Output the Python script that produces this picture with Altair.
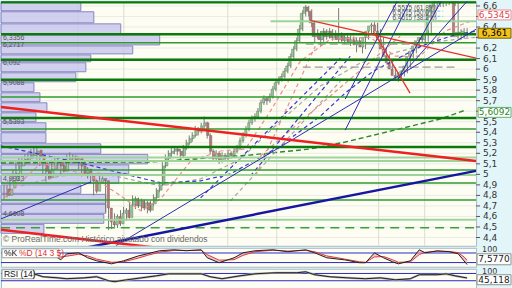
import altair as alt
import pandas as pd

# ---------------- daily candles (bar index 0..155) ----------------
opens = [4.86,4.80,4.87,4.94,5.00,5.08,5.14,5.11,5.15,5.18,
         5.20,5.23,5.17,5.11,5.03,4.97,5.05,5.11,5.13,5.08,
         5.03,5.11,5.15,5.17,5.13,5.15,5.08,5.01,5.05,4.99,
         4.94,4.84,4.92,4.96,4.94,4.68,4.55,4.52,4.60,4.53,
         4.63,4.66,4.59,4.71,4.77,4.70,4.75,4.68,4.73,4.66,
         4.72,4.78,4.85,4.90,5.08,5.15,5.20,5.22,5.24,5.22,
         5.18,5.25,5.30,5.34,5.37,5.43,5.41,5.46,5.49,5.37,
         5.22,5.15,5.20,5.13,5.18,5.15,5.20,5.18,5.22,5.25,
         5.32,5.37,5.43,5.49,5.53,5.55,5.60,5.68,5.72,5.70,
         5.74,5.81,5.87,5.90,5.93,5.98,6.03,6.12,6.19,6.27,
         6.38,6.53,6.59,6.55,6.44,6.31,6.34,6.28,6.36,6.31,
         6.36,6.30,6.34,6.28,6.32,6.27,6.30,6.25,6.28,6.23,
         6.27,6.21,6.30,6.36,6.41,6.42,6.36,6.28,6.19,6.12,
         6.06,6.00,5.94,5.92,5.96,5.98,6.03,6.12,6.17,6.22,
         6.27,6.30,6.28,6.34,6.55,6.60,6.64,6.66,6.63,6.68,
         6.65,6.67,6.64,6.31,6.35,6.33]
highs = [4.90,4.90,4.97,5.05,5.12,5.16,5.17,5.19,5.21,5.24,
         5.26,5.25,5.19,5.13,5.06,5.08,5.14,5.17,5.15,5.10,
         5.14,5.19,5.21,5.19,5.18,5.17,5.10,5.08,5.07,5.01,
         4.96,4.95,4.99,4.98,4.95,4.70,4.60,4.63,4.62,4.66,
         4.69,4.68,4.74,4.80,4.79,4.78,4.77,4.76,4.75,4.75,
         4.81,4.87,4.93,5.12,5.19,5.23,5.25,5.27,5.26,5.24,
         5.28,5.33,5.37,5.40,5.46,5.45,5.49,5.55,5.50,5.39,
         5.24,5.23,5.22,5.21,5.20,5.23,5.22,5.25,5.28,5.35,
         5.40,5.46,5.52,5.56,5.58,5.63,5.71,5.75,5.74,5.77,
         5.84,5.90,5.93,5.96,6.01,6.06,6.15,6.22,6.30,6.42,
         6.56,6.61,6.60,6.57,6.46,6.38,6.36,6.39,6.38,6.39,
         6.38,6.37,6.58,6.35,6.34,6.33,6.32,6.31,6.30,6.30,
         6.29,6.33,6.39,6.44,6.46,6.44,6.38,6.30,6.21,6.14,
         6.08,6.02,5.97,5.99,6.01,6.06,6.15,6.20,6.25,6.30,
         6.34,6.33,6.37,6.60,6.66,6.70,6.72,6.71,6.73,6.74,
         6.72,6.70,6.66,6.38,6.39,6.39]
lows = [4.76,4.78,4.85,4.92,4.98,5.05,5.08,5.09,5.13,5.16,
        5.18,5.14,5.08,5.00,4.93,4.95,5.03,5.09,5.05,5.00,
        5.02,5.09,5.13,5.10,5.11,5.05,4.98,4.99,4.96,4.91,
        4.80,4.82,4.90,4.91,4.64,4.47,4.48,4.50,4.49,4.51,
        4.60,4.56,4.58,4.69,4.67,4.68,4.65,4.66,4.63,4.64,
        4.70,4.76,4.83,4.89,5.06,5.13,5.16,5.19,5.18,5.14,
        5.16,5.23,5.28,5.31,5.35,5.37,5.39,5.43,5.34,5.19,
        5.12,5.13,5.10,5.11,5.12,5.13,5.15,5.16,5.20,5.23,
        5.30,5.35,5.41,5.47,5.50,5.53,5.58,5.66,5.66,5.68,
        5.72,5.79,5.85,5.88,5.91,5.96,6.01,6.10,6.17,6.25,
        6.36,6.50,6.50,6.40,6.25,6.29,6.22,6.26,6.28,6.29,
        6.27,6.28,6.25,6.26,6.24,6.25,6.22,6.23,6.16,6.21,
        6.15,6.19,6.28,6.34,6.38,6.33,6.25,6.16,6.09,6.03,
        5.97,5.90,5.88,5.90,5.93,5.96,6.01,6.10,6.15,6.20,
        6.25,6.24,6.26,6.32,6.52,6.57,6.59,6.59,6.60,6.61,
        6.62,6.60,6.29,6.28,6.29,6.30]
closes = [4.80,4.86,4.94,5.01,5.08,5.13,5.11,5.15,5.18,5.20,
          5.22,5.17,5.11,5.03,4.96,5.05,5.11,5.13,5.08,5.03,
          5.11,5.15,5.17,5.13,5.15,5.08,5.01,5.05,4.99,4.94,
          4.84,4.92,4.96,4.94,4.68,4.55,4.52,4.60,4.53,4.63,
          4.66,4.59,4.71,4.77,4.70,4.75,4.68,4.73,4.66,4.72,
          4.78,4.85,4.90,5.08,5.15,5.20,5.22,5.24,5.22,5.18,
          5.25,5.30,5.34,5.37,5.43,5.41,5.46,5.49,5.37,5.22,
          5.15,5.20,5.13,5.18,5.15,5.20,5.18,5.22,5.25,5.32,
          5.37,5.43,5.49,5.53,5.55,5.60,5.68,5.72,5.70,5.74,
          5.81,5.87,5.90,5.93,5.98,6.03,6.12,6.19,6.27,6.38,
          6.53,6.59,6.55,6.44,6.31,6.34,6.28,6.36,6.31,6.36,
          6.30,6.34,6.28,6.32,6.27,6.30,6.25,6.28,6.23,6.27,
          6.21,6.30,6.36,6.41,6.42,6.36,6.28,6.19,6.12,6.06,
          6.00,5.94,5.92,5.96,5.98,6.03,6.12,6.17,6.22,6.27,
          6.30,6.28,6.34,6.56,6.61,6.64,6.66,6.63,6.68,6.65,
          6.67,6.65,6.31,6.35,6.33,6.361]

# ---------------- price axis ----------------
tick_values = [4.4,4.5,4.6,4.7,4.8,4.9,5.0,5.1,5.2,5.3,5.4,5.5,5.6,5.7,5.8,5.9,6.0,6.1,6.2,6.3,6.4,6.5,6.6]
# labels that are not covered by the last-value tags
label_values = [4.4,4.5,4.6,4.7,4.8,4.9,5.0,5.1,5.2,5.3,5.4,5.5,5.7,5.8,5.9,6.0,6.1,6.2,6.4,6.6]
label_texts = ["4,4","4,5","4,6","4,7","4,8","4,9","5","5,1","5,2","5,3","5,4","5,5","5,7",
               "5,8","5,9","6","6,1","6,2","6,4","6,6"]

# ---------------- volume-by-price profile ----------------
profile_hi = [6.64,6.545,6.43,6.325,6.22,6.135,6.06,5.965,5.87,5.775,5.68,5.585,
              5.49,5.395,5.29,5.19,5.09,4.995,4.90,4.81,4.715,4.62,4.525]
profile_lo = [6.555,6.44,6.335,6.23,6.145,6.07,5.975,5.88,5.785,5.69,5.595,5.50,
              5.405,5.30,5.20,5.10,5.005,4.915,4.82,4.725,4.63,4.535,4.44]
profile_vol = [80,93,120,159,132,90,85,75,33,39,46,35,45,45,100,147,128,118,80,105,105,103,43]
profile_tag_price = [6.3356,6.2717,6.092,5.9088,5.5393,4.9933,4.6608]
profile_tag_text = ["6,3356","6,2717","6,092","5,9088","5,5393","4,9933","4,6608"]

# ---------------- horizontal levels ----------------
levels_dark = [6.635,6.332,6.090,5.900,5.535,5.260]
levels_mid = [6.251,5.734,5.431,5.042,4.919,4.757]
levels_light = [5.160,5.127,4.995,4.568]
levels_dashed = [4.492]
level_partial = [6.455]
gray_level_price = [6.237,6.019]
gray_level_from = [101,100]
gray_level_to = [139,151]
fib_price = [6.5515,6.5015,6.4615]
fib_text = ["6,5515 (61,8%)","6,5015 (50,0%)","6,4615 (38,2%)"]
vgrid_bars = [24.7,40.1,74.9,91.3,125.4,140.8]

# ---------------- trend lines (bar0, price0, bar1, price1) ----------------
red_thick = [(-1,5.639,158,5.127),(-1,4.473,52.4,4.299)]
blue_thick = [(25.7,4.294,158,5.033)]
blue_thin = [(-1,4.577,29.1,4.928),(37.4,4.321,158,6.379),(131.9,5.905,146.3,6.645),
             (131.9,5.905,155.0,6.645),(114.2,5.420,135.9,6.645),(114.2,5.715,131.6,6.645)]
red_thin = [(102.5,6.464,158,6.104),(123.6,6.360,135.9,5.772)]
red_dash_seg = [(84.2,4.985,104.2,6.218),(85.8,5.175,132.6,6.313)]
blue_dash_seg = [(65.8,4.776,112.6,6.104),(82.5,4.985,115.9,6.123)]
gray_dash_seg = [(75.8,4.748,112.6,5.886)]

# ---------------- moving averages ----------------
ma_green_bar = [-1,49.1,82.5,102.5,114.2,146.0,154.3]
ma_green = [5.108,5.118,5.184,5.241,5.307,5.526,5.609]
ma_blue_bar = [-1,25.7,52.4,65.8,75.8,92.5,105.9,114.2,123.6,140.3,151.6,158]
ma_blue = [5.270,5.108,4.919,4.938,5.004,5.270,5.554,5.772,5.981,6.227,6.332,6.360]
ma_red_bar = [0,12.4,29.1,39.1,45.8,52.4,62.5,72.5,80.8,89.2,99.2,109.2,122.6,130.9,139.3,147.6,156]
ma_red = [4.776,5.108,4.985,4.795,4.653,4.767,5.127,5.222,5.241,5.602,6.076,6.284,6.303,6.123,6.123,6.360,6.455]
ma_gray_bar = [5.7,19.0,32.4,52.4,65.8,79.2,92.5,105.9,119.2,132.6,146.0,158]
ma_gray = [4.890,4.985,5.013,4.890,4.957,5.146,5.507,5.839,6.057,6.170,6.265,6.303]

# ---------------- last-value tags ----------------
tag_value = [6.5345,6.361,5.6092]
tag_text = ["6,5345","6,361","5,6092"]
tag_fill = ["#ffffff","#f2c21a","#ffffff"]
tag_stroke = ["#e89090","#7a6000","#6aaa6a"]
tag_color = ["#e04848","#000000","#2a8a2a"]

# ---------------- stochastic ----------------
stoch_bar = [13,16,19,21,25,28,31,36,40,45,48,52,57,61,66,68,72,77,80,84,
             90,95,101,104,108,114,119,121,124,127,130,132,136,139,141,145,149,152,154,155]
stoch_k = [50,75,37,75,81,50,31,12,31,62,75,94,100,94,100,50,19,50,81,94,
           100,88,100,81,50,37,19,19,81,50,25,12,31,100,81,94,88,75,30,7.6]
stoch_d = [55,60,55,60,72,62,42,22,25,48,65,85,96,96,97,70,35,38,65,88,
           97,92,96,88,62,42,25,22,55,58,38,22,24,70,85,90,90,82,55,35]
stoch_levels = [20,80]

# ---------------- RSI ----------------
rsi_bar = [10,13,18,21,27,31,35,37,41,46,51,55,61,66,69,73,79,84,91,98,
           101,104,109,115,121,126,131,136,139,145,148,151,155]
rsi_val = [68,52,46,41,46,52,30,25,35,46,57,68,68,68,52,41,57,68,74,74,
           79,63,52,46,41,46,35,41,63,63,68,57,45.1]
rsi_levels = [30,70]

# =====================================================================
W = 476
xs = alt.Scale(domain=[-1, 158], nice=False, zero=False)
ys = alt.Scale(domain=[4.3212, 6.6446], nice=False, zero=False)


def X(f):
    return alt.X(f, type="quantitative", scale=xs, axis=None)


def Y(f):
    return alt.Y(f, type="quantitative", scale=ys, axis=None)


def seg_layer(segs, color, width, dash=None):
    kw = dict(color=color, strokeWidth=width, clip=True)
    if dash:
        kw["strokeDash"] = dash
    df = pd.DataFrame(segs, columns=["b0", "p0", "b1", "p1"])
    return alt.Chart(df).mark_rule(**kw).encode(x=X("b0"), x2="b1", y=Y("p0"), y2="p1")


def hlevels(prices, color, width, dash=None, b0=-1, b1=158):
    kw = dict(color=color, strokeWidth=width, clip=True)
    if dash:
        kw["strokeDash"] = dash
    df = pd.DataFrame({"p": prices, "b0": b0, "b1": b1})
    return alt.Chart(df).mark_rule(**kw).encode(x=X("b0"), x2="b1", y=Y("p"))


def ma_layer(bars, vals, color, width=1.2, dash=(4, 3)):
    df = pd.DataFrame({"b": bars, "p": vals})
    return alt.Chart(df).mark_line(color=color, strokeWidth=width, strokeDash=list(dash),
                                   clip=True).encode(x=X("b"), y=Y("p"))


cdf = pd.DataFrame({"i": list(range(len(closes))), "o": opens, "h": highs, "l": lows, "c": closes})
cdf["dir"] = ["up" if c >= o else "down" for o, c in zip(opens, closes)]

axdf = pd.DataFrame({"p": tick_values, "b0": -1, "b1": 158})
lbdf = pd.DataFrame({"p": label_values, "t": label_texts})
hgrid = alt.Chart(axdf).mark_rule(color="#ecece3", strokeWidth=1).encode(x=X("b0"), x2="b1", y=Y("p"))
ticks = alt.Chart(axdf).mark_rule(color="#555555", strokeWidth=1).encode(
    x=alt.value(476), x2=alt.value(480), y=Y("p"))
tick_txt = alt.Chart(lbdf).mark_text(align="left", baseline="middle", font="DejaVu Sans", fontSize=9,
                                     color="#333333").encode(x=alt.value(483), y=Y("p"), text="t")

vgrid = alt.Chart(pd.DataFrame({"b": vgrid_bars})).mark_rule(color="#dcdcd2", strokeWidth=1).encode(x=X("b"))

pdf = pd.DataFrame({"lo": profile_lo, "hi": profile_hi, "vol": profile_vol})
profile = alt.Chart(pdf).transform_calculate(z="0").mark_rect(
    fill="#c6c6ee", fillOpacity=0.8, stroke="#8686c2", strokeWidth=1
).encode(
    x=alt.X("z:Q", scale=alt.Scale(domain=[0, W], nice=False, zero=False), axis=None),
    x2="vol:Q", y=Y("lo"), y2="hi")

wick = alt.Chart(cdf).mark_rule(color="#7a7a7a", strokeWidth=1, clip=True).encode(
    x=X("i"), y=Y("l"), y2="h")
body = alt.Chart(cdf).mark_bar(size=2.2, clip=True, stroke="#5a5a5a", strokeWidth=0.4).encode(
    x=X("i"), y=Y("o"), y2="c",
    color=alt.Color("dir:N", scale=alt.Scale(domain=["up", "down"], range=["#8fd18f", "#c07676"]), legend=None))

gray_lv = pd.DataFrame({"p": gray_level_price, "b0": gray_level_from, "b1": gray_level_to})
gray_levels = alt.Chart(gray_lv).mark_rule(color="#9a9a9a", strokeWidth=1.2, strokeDash=[8, 4]).encode(
    x=X("b0"), x2="b1", y=Y("p"))

fib_df = pd.DataFrame({"p": fib_price, "t": fib_text, "b0": 130, "b1": 147})
fib_lines = alt.Chart(fib_df).mark_rule(color="#78c8ee", strokeWidth=1, strokeDash=[3, 2], clip=True).encode(
    x=X("b0"), x2="b1", y=Y("p"))
fib_txt = alt.Chart(fib_df).mark_text(align="left", baseline="bottom", font="Liberation Sans", fontSize=6.5,
                                      color="#555555", clip=True).encode(x=X("b0"), y=Y("p"), text="t")

prof_txt = alt.Chart(pd.DataFrame({"p": profile_tag_price, "t": profile_tag_text})).mark_text(
    align="left", baseline="top", font="Liberation Sans", fontSize=7, color="#555555"
).encode(x=alt.value(2), y=Y("p"), text="t")

copyright_txt = alt.Chart(pd.DataFrame({"t": ["© ProRealTime.com  Histórico ajustado con dividendos"]})).mark_text(
    align="left", baseline="middle", font="Liberation Sans", fontSize=8.5, color="#6a6a6a"
).encode(x=alt.value(2), y=alt.value(238), text="t")

tdf = pd.DataFrame({"v": tag_value, "t": tag_text, "fill": tag_fill, "stroke": tag_stroke, "col": tag_color})
tdf["mid"] = tdf["v"] - 0.02
tdf["top"] = tdf["mid"] + 0.047
tdf["bot"] = tdf["mid"] - 0.047
tag_box = alt.Chart(tdf).mark_rect(strokeWidth=1).encode(
    x=alt.value(478), x2=alt.value(511), y=Y("top"), y2="bot",
    fill=alt.Fill("fill:N", scale=None), stroke=alt.Stroke("stroke:N", scale=None))
tag_txt = alt.Chart(tdf).mark_text(align="center", baseline="middle", font="DejaVu Sans", fontSize=9).encode(
    x=alt.value(494.5), y=Y("mid"), text="t", color=alt.Color("col:N", scale=None))

main = alt.layer(
    hgrid, vgrid, profile, wick, body,
    ma_layer(ma_gray_bar, ma_gray, "#a6a6a6"),
    ma_layer(ma_red_bar, ma_red, "#f08c8c"),
    ma_layer(ma_blue_bar, ma_blue, "#3838d0"),
    ma_layer(ma_green_bar, ma_green, "#2a8a2a", 1.4, (5, 3)),
    seg_layer(gray_dash_seg, "#a6a6a6", 1.2, [4, 3]),
    seg_layer(red_dash_seg, "#f08c8c", 1.2, [4, 3]),
    seg_layer(blue_dash_seg, "#3838d0", 1.2, [4, 3]),
    gray_levels, fib_lines, fib_txt,
    hlevels(levels_light, "#9cd49c", 2),
    hlevels(level_partial, "#9cd49c", 2, b0=89.2),
    hlevels(levels_mid, "#2c9c2c", 1.5),
    hlevels(levels_dark, "#0a7a0a", 2.5),
    hlevels(levels_dashed, "#3aa03a", 1.5, dash=[9, 6]),
    seg_layer(blue_thin, "#2b2bb0", 1),
    seg_layer(red_thin, "#e83030", 1.3),
    seg_layer(blue_thick, "#1616a0", 2.5),
    seg_layer(red_thick, "#ee2020", 2.5),
    prof_txt, copyright_txt, ticks, tick_txt, tag_box, tag_txt,
).resolve_scale(x="independent").properties(width=W, height=245)

# ---------------- stochastic panel ----------------
ss = alt.Scale(domain=[-6.25, 112.5], nice=False, zero=False)
sdf = pd.DataFrame({"b": stoch_bar, "k": stoch_k, "d": stoch_d})
s_lv = alt.Chart(pd.DataFrame({"v": stoch_levels, "b0": -1, "b1": 158})).mark_rule(
    color="#2a2ac0", strokeWidth=1).encode(x=X("b0"), x2="b1", y=alt.Y("v:Q", scale=ss, axis=None))
s_area = alt.Chart(sdf).mark_area(color="#eaa2b2", opacity=0.65).encode(
    x=X("b"), y=alt.Y("k:Q", scale=ss, axis=None), y2="d:Q")
s_d = alt.Chart(sdf).mark_line(color="#e03a3a", strokeWidth=1).encode(x=X("b"), y=alt.Y("d:Q", scale=ss, axis=None))
s_k = alt.Chart(sdf).mark_line(color="#202020", strokeWidth=1).encode(x=X("b"), y=alt.Y("k:Q", scale=ss, axis=None))
s_title_box = alt.Chart(pd.DataFrame({"a": [0]})).mark_rect(fill="#ffffff", stroke="#a0a0a0", strokeWidth=1).encode(
    x=alt.value(1), x2=alt.value(58), y=alt.value(1), y2=alt.value(10))
s_title_k = alt.Chart(pd.DataFrame({"t": ["%K"]})).mark_text(
    align="left", baseline="middle", font="Liberation Sans", fontSize=8.5, color="#111111"
).encode(x=alt.value(3), y=alt.value(5.5), text="t")
s_title_d = alt.Chart(pd.DataFrame({"t": ["%D (14 3 5)"]})).mark_text(
    align="left", baseline="middle", font="Liberation Sans", fontSize=8.5, color="#e03030"
).encode(x=alt.value(18), y=alt.value(5.5), text="t")
s_ax = alt.Chart(pd.DataFrame({"v": [100], "t": ["100"]})).mark_text(
    align="left", baseline="middle", font="DejaVu Sans", fontSize=8, color="#333333"
).encode(x=alt.value(482), y=alt.Y("v:Q", scale=ss, axis=None), text="t")
s_box = alt.Chart(pd.DataFrame({"a": [0]})).mark_rect(fill="#ffffff", stroke="#909090", strokeWidth=1).encode(
    x=alt.value(477), x2=alt.value(511), y=alt.value(6), y2=alt.value(17))
s_val = alt.Chart(pd.DataFrame({"t": ["7,5770"]})).mark_text(
    align="center", baseline="middle", font="DejaVu Sans", fontSize=9, color="#222222"
).encode(x=alt.value(494), y=alt.value(11.5), text="t")
stoch = alt.layer(s_lv, s_area, s_d, s_k, s_title_box, s_title_k, s_title_d, s_ax, s_box, s_val).properties(
    width=W, height=19)

# ---------------- RSI panel ----------------
rs = alt.Scale(domain=[-13.8, 95.8], nice=False, zero=False)
rdf = pd.DataFrame({"b": rsi_bar, "r": rsi_val})
r_lv = alt.Chart(pd.DataFrame({"v": rsi_levels, "b0": -1, "b1": 158})).mark_rule(
    color="#2a2ac0", strokeWidth=1).encode(x=X("b0"), x2="b1", y=alt.Y("v:Q", scale=rs, axis=None))
r_shadow = alt.Chart(rdf).mark_line(color="#b0b0b0", strokeWidth=2.2).encode(
    x=X("b"), y=alt.Y("r:Q", scale=rs, axis=None))
r_line = alt.Chart(rdf).mark_line(color="#202020", strokeWidth=1).encode(
    x=X("b"), y=alt.Y("r:Q", scale=rs, axis=None))
r_title_box = alt.Chart(pd.DataFrame({"a": [0]})).mark_rect(fill="#ffffff", stroke="#a0a0a0", strokeWidth=1).encode(
    x=alt.value(1), x2=alt.value(33), y=alt.value(1), y2=alt.value(10))
r_title = alt.Chart(pd.DataFrame({"t": ["RSI (14)"]})).mark_text(
    align="left", baseline="middle", font="Liberation Sans", fontSize=8.5, color="#111111"
).encode(x=alt.value(3), y=alt.value(5.5), text="t")
r_ax = alt.Chart(pd.DataFrame({"v": [100], "t": ["100"]})).mark_text(
    align="left", baseline="top", font="DejaVu Sans", fontSize=8, color="#333333"
).encode(x=alt.value(482), y=alt.Y("v:Q", scale=rs, axis=None), text="t")
r_box = alt.Chart(pd.DataFrame({"a": [0]})).mark_rect(fill="#ffffff", stroke="#909090", strokeWidth=1).encode(
    x=alt.value(477), x2=alt.value(511), y=alt.value(6), y2=alt.value(16))
r_val = alt.Chart(pd.DataFrame({"t": ["45,118"]})).mark_text(
    align="center", baseline="middle", font="DejaVu Sans", fontSize=9, color="#222222"
).encode(x=alt.value(494), y=alt.value(11), text="t")
rsi = alt.layer(r_lv, r_shadow, r_line, r_title_box, r_title, r_ax, r_box, r_val).properties(width=W, height=20)

chart = alt.vconcat(main, stoch, rsi, spacing=2, bounds="flush").resolve_scale(
    x="independent", y="independent"
).properties(padding=0, background="#e2f6fa").configure_view(
    fill="#fdfdf3", stroke="#a9bcc4", strokeWidth=1
)

chart.save("out.html", embed_options={"renderer": "svg", "actions": False})
